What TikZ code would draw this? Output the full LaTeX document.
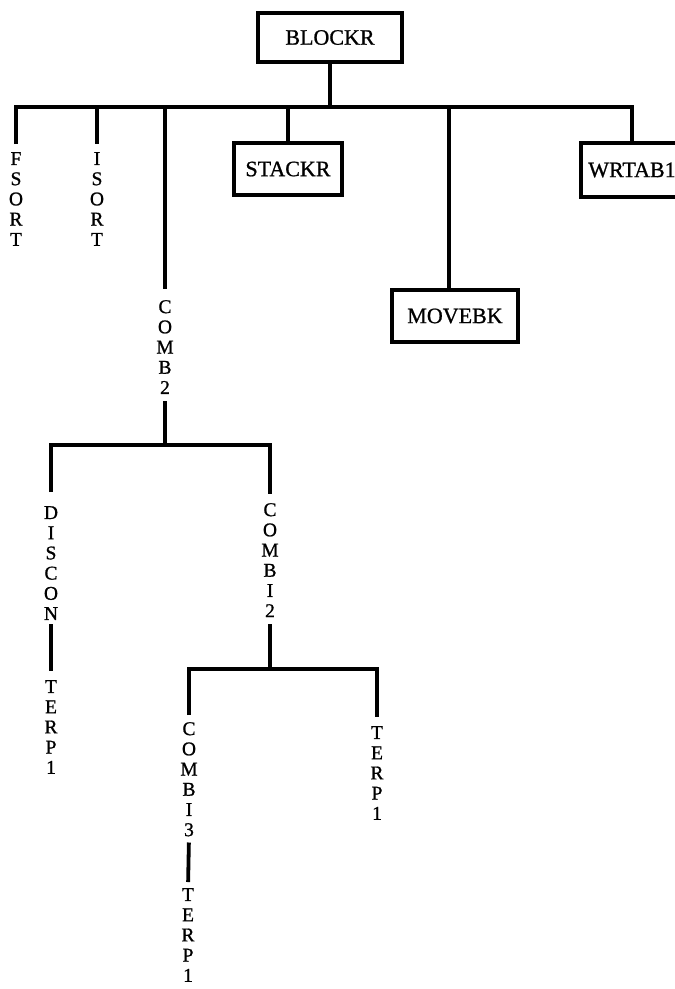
\documentclass[tikz,border=0pt]{standalone}
\usepackage{fontspec}
\setmainfont{Liberation Serif}[FakeBold=0.9]
\begin{document}
\begin{tikzpicture}[x=1pt,y=-1pt,
  wire/.style={line width=3.8pt, line join=miter, line cap=butt},
  box/.style={draw, line width=3.4pt, inner sep=0pt,
    font=\fontsize{22}{24}\selectfont},
  vlabel/.style={inner sep=0pt, align=center, anchor=north,
    font=\fontsize{19.5}{20.2}\selectfont}]
\useasboundingbox (0,0) rectangle (675,989);
\clip (0,0) rectangle (675,989);

% rail levels of the call tree
\coordinate (bus)  at (0,107);
\coordinate (bus2) at (0,445);
\coordinate (bus3) at (0,669);

% boxed routines
\node[box, minimum width=144pt, minimum height=49pt] (blockr) at (330,37.5) {BLOCKR};
\node[box, minimum width=108pt, minimum height=52pt] (stackr) at (288,169) {STACKR};
\node[box, minimum width=126pt, minimum height=52pt] (movebk) at (455,316) {MOVEBK};
\node[box, minimum width=102pt, minimum height=54pt] (wrtab)  at (632,170) {WRTAB1};

% routines written as vertical letter stacks
\node[vlabel] (fsort)  at (16,152)  {F\\S\\O\\R\\T};
\node[vlabel] (isort)  at (97,152)  {I\\S\\O\\R\\T};
\node[vlabel] (comb2)  at (165,300) {C\\O\\M\\B\\2};
\node[vlabel] (discon) at (51,506)  {D\\I\\S\\C\\O\\N};
\node[vlabel] (terpa)  at (51,680)  {T\\E\\R\\P\\1};
\node[vlabel] (combi2) at (270,503) {C\\O\\M\\B\\I\\2};
\node[vlabel] (combi3) at (189,722) {C\\O\\M\\B\\I\\3};
\node[vlabel] (terpb)  at (188,888) {T\\E\\R\\P\\1};
\node[vlabel] (terpc)  at (377,726) {T\\E\\R\\P\\1};

\coordinate (mvtop) at ([xshift=-6pt]movebk.north);

% top level
\draw[wire] (blockr.south) -- (blockr.south |- bus);
\draw[wire, shorten <=8pt] (fsort.north) -- (fsort.north |- bus)
  -- (wrtab.north |- bus) -- (wrtab.north);
\draw[wire, shorten >=8pt]  (isort.north |- bus) -- (isort.north);
\draw[wire, shorten >=11pt] (comb2.north |- bus) -- (comb2.north);
\draw[wire] (stackr.north |- bus) -- (stackr.north);
\draw[wire] (mvtop |- bus) -- (mvtop);

% under COMB2
\draw[wire, shorten <=7pt] (comb2.south) -- (comb2.south |- bus2);
\draw[wire, shorten <=14pt, shorten >=9pt] (discon.north) -- (discon.north |- bus2)
  -- (combi2.north |- bus2) -- (combi2.north);
\draw[wire, shorten <=4pt, shorten >=9pt] (discon.south) -- (terpa.north);

% under COMBI2
\draw[wire, shorten <=7pt] (combi2.south) -- (combi2.south |- bus3);
\draw[wire, shorten <=7pt, shorten >=9pt] (combi3.north) -- (combi3.north |- bus3)
  -- (terpc.north |- bus3) -- (terpc.north);
\draw[wire, shorten <=6pt, shorten >=6pt] (combi3.south) -- (terpb.north);
\end{tikzpicture}
\end{document}
